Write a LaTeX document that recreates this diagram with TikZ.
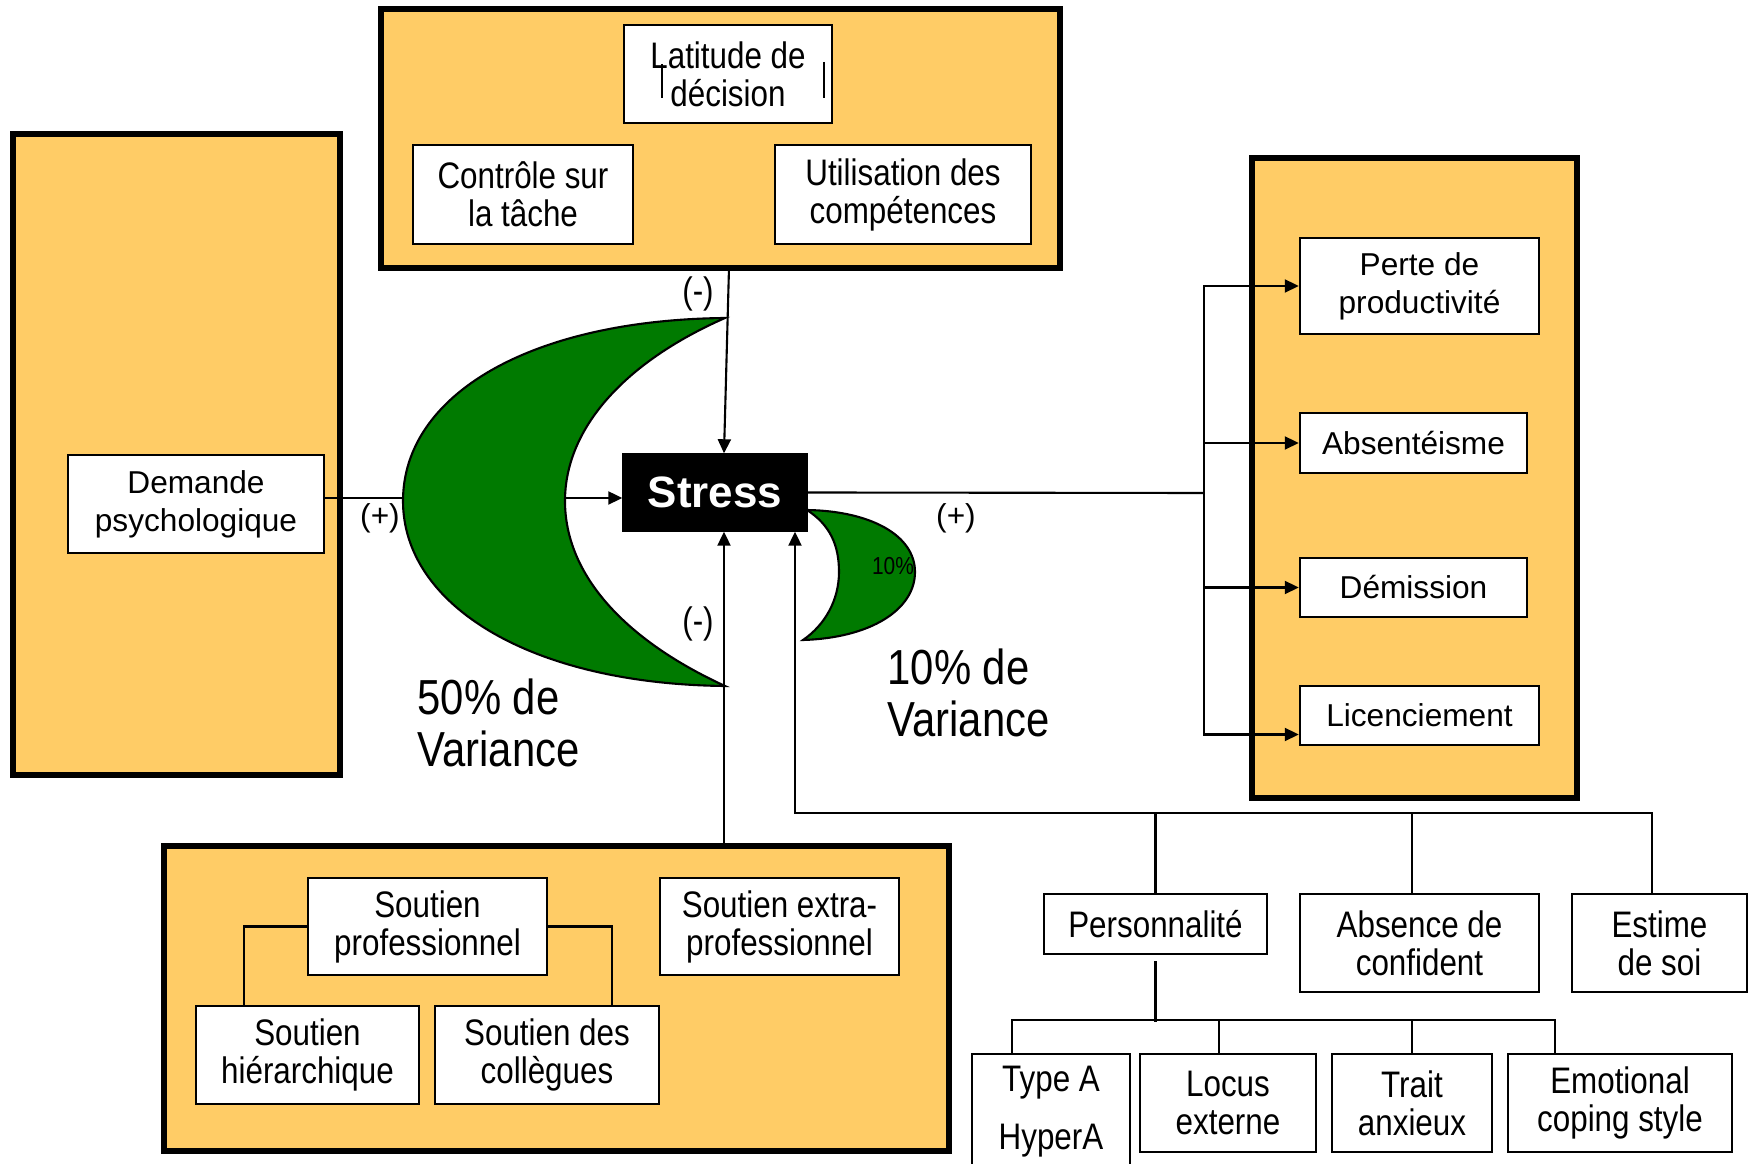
\documentclass[tikz,border=0pt]{standalone}
\usepackage{fontspec}
\setmainfont{Liberation Sans}
\newfontfamily\etroite[FakeStretch=0.85]{Liberation Sans}
\usetikzlibrary{arrows.meta}
\definecolor{orangepale}{RGB}{255,204,102}
\definecolor{vertfonce}{RGB}{0,122,0}

\begin{document}
\begin{tikzpicture}[
    cadre/.style={draw, line width=1.6pt, fill=orangepale},
    boite/.style={draw, line width=0.7pt, fill=white, align=center, inner sep=0pt, font=\fontsize{9}{10.8}\selectfont},
    etr/.style={font=\etroite\fontsize{10.5}{10.8}\selectfont},
    fleche/.style={-{Triangle[length=0.14cm,width=0.13cm]}, line width=0.6pt},
    trait/.style={line width=0.6pt},
    croissant/.style={draw, fill=vertfonce, line width=0.6pt},
    signe/.style={inner sep=0pt, font=\fontsize{9}{10.8}\selectfont},
    variance/.style={inner sep=0pt, align=left, font=\etroite\fontsize{14}{14.6}\selectfont}
  ]
    \useasboundingbox (0,0) rectangle (17.54,-11.64);
    % cadres
    \node[cadre, minimum width=6.79cm, minimum height=2.59cm] (Haut) at (7.205,-1.385) {};
    \node[cadre, minimum width=3.27cm, minimum height=6.41cm] (Gauche) at (1.765,-4.545) {};
    \node[cadre, minimum width=3.25cm, minimum height=6.40cm] (Droite) at (14.145,-4.78) {};
    \node[cadre, minimum width=7.85cm, minimum height=3.05cm] (Bas) at (5.565,-9.985) {};
    %
    \node[boite, etr, minimum width=2.08cm, minimum height=0.98cm] (Latitude) at (7.28,-0.74) {Latitude de\\décision};
    \draw[trait] (6.62,-0.64) -- (6.62,-0.98);
    \draw[trait] (8.24,-0.62) -- (8.24,-0.98);
    \node[boite, etr, minimum width=2.20cm, minimum height=0.99cm] (Controle) at (5.23,-1.945) {Contrôle sur\\la tâche};
    \node[boite, etr, minimum width=2.56cm, minimum height=0.99cm] (Utilisation) at (9.03,-1.945) {Utilisation des\\compétences};
    %
    \node[boite, minimum width=2.56cm, minimum height=0.98cm] (Demande) at (1.96,-5.04) {Demande\\psychologique};
    %
    \node[boite, minimum width=2.39cm, minimum height=0.96cm] (Perte) at (14.195,-2.86) {Perte de\\productivité};
    \node[boite, minimum width=2.27cm, minimum height=0.60cm] (Absent) at (14.135,-4.43) {Absentéisme};
    \node[boite, minimum width=2.27cm, minimum height=0.59cm] (Demission) at (14.135,-5.875) {Démission};
    \node[boite, minimum width=2.39cm, minimum height=0.59cm] (Licenc) at (14.195,-7.155) {Licenciement};
    %
    \node[boite, etr, minimum width=2.39cm, minimum height=0.97cm] (SP) at (4.275,-9.265) {Soutien\\professionnel};
    \node[boite, etr, minimum width=2.39cm, minimum height=0.97cm] (SEP) at (7.795,-9.265) {Soutien extra-\\professionnel};
    \node[boite, etr, minimum width=2.23cm, minimum height=0.98cm] (SH) at (3.075,-10.55) {Soutien\\hiérarchique};
    \node[boite, etr, minimum width=2.24cm, minimum height=0.98cm] (SDC) at (5.47,-10.55) {Soutien des\\collègues};
    %
    \node[boite, etr, minimum width=2.23cm, minimum height=0.60cm] (Perso) at (11.555,-9.24) {Personnalité};
    \node[boite, etr, minimum width=2.39cm, minimum height=0.98cm] (Absence) at (14.195,-9.43) {Absence de\\confident};
    \node[boite, etr, minimum width=1.75cm, minimum height=0.98cm] (Estime) at (16.595,-9.43) {Estime\\de soi};
    \node[boite, etr, minimum width=1.58cm, minimum height=1.16cm] (TypeA) at (10.51,-11.12) {Type A\\[5.7pt]HyperA};
    \node[boite, etr, minimum width=1.76cm, minimum height=0.98cm] (Locus) at (12.28,-11.03) {Locus\\externe};
    \node[boite, etr, minimum width=1.60cm, minimum height=0.98cm] (Trait) at (14.12,-11.03) {Trait\\anxieux};
    \node[boite, etr, minimum width=2.24cm, minimum height=0.98cm] (Emotional) at (16.20,-11.03) {Emotional\\coping style};
    %
    % croissants
    \draw[croissant] (7.25,-3.18) .. controls (5.3,-3.2) and (4.03,-3.95) .. (4.03,-5.01)
        .. controls (4.03,-6.05) and (5.3,-6.84) .. (7.25,-6.86)
        .. controls (6.25,-6.4) and (5.65,-5.75) .. (5.65,-5.01)
        .. controls (5.65,-4.28) and (6.25,-3.62) .. cycle;
    \draw[croissant] (8.07,-5.10) .. controls (8.7,-5.11) and (9.15,-5.35) .. (9.15,-5.72)
        .. controls (9.15,-6.1) and (8.7,-6.38) .. (8.03,-6.40)
        .. controls (8.25,-6.25) and (8.39,-6.0) .. (8.39,-5.72)
        .. controls (8.39,-5.45) and (8.3,-5.25) .. cycle;
    \node[inner sep=0pt, font=\etroite\fontsize{7}{8}\selectfont] (dix) at (8.93,-5.66) {10\%};
    %
    \node[draw, fill=black, text=white, minimum width=1.84cm, minimum height=0.77cm, font=\bfseries\fontsize{12.5}{14}\selectfont] (Stress) at (7.15,-4.925) {Stress};
    %
    \coordinate (croissantG) at (4.03,-4.98);
    \coordinate (croissantD) at (5.65,-4.98);
    \draw[trait] (Demande.east |- croissantG) -- (croissantG);
    \draw[fleche] (croissantD) -- (croissantD -| Stress.west);
    \node[signe] (plusG) at (3.80,-5.18) {(+)};
    %
    \coordinate (hautbas) at (7.29,-2.68);
    \draw[fleche] (hautbas) -- ([xshift=0.09cm]Stress.north);
    \node[signe, etr] (moinsH) at (6.98,-2.94) {(-)};
    %
    \draw[fleche] ([xshift=0.09cm]Stress.south |- Bas.north) -- ([xshift=0.09cm]Stress.south);
    \node[signe, etr] (moinsB) at (6.98,-6.24) {(-)};
    %
    \coordinate (bus) at (12.04,-4.93);
    \draw[trait] (Stress.east) -- (bus);
    \draw[fleche] (bus) |- (Perte.west);
    \draw[fleche] (bus) |- (Absent.west);
    \draw[fleche] (bus) |- (Demission.west);
    \draw[fleche] (bus) |- ([yshift=-0.19cm]Licenc.west);
    \node[signe] (plusD) at (9.56,-5.18) {(+)};
    %
    \coordinate (coinbas) at (7.95,-8.13);
    \draw[fleche] ([xshift=-0.075cm]Estime.north) |- (coinbas) -- ([xshift=0.80cm]Stress.south);
    \draw[trait] (Perso.north) -- (Perso.north |- coinbas);
    \draw[trait] ([xshift=-0.075cm]Absence.north) -- ([xshift=-0.075cm]Absence.north |- coinbas);
    %
    \draw[trait] ([yshift=-0.06cm]Perso.south) -- ++(0,-0.61);
    \draw[trait] ([xshift=-0.39cm]TypeA.north) -- ++(0,0.33) -| ([xshift=-0.65cm]Emotional.north);
    \draw[trait] ([xshift=-0.09cm]Locus.north) -- ++(0,0.33);
    \draw[trait] (Trait.north) -- ++(0,0.33);
    %
    \draw[trait] (SP.west) -| ([xshift=-0.635cm]SH.north);
    \draw[trait] (SP.east) -| ([xshift=0.65cm]SDC.north);
    %
    \node[variance, anchor=west] (var50) at (4.17,-7.23) {50\% de\\Variance};
    \node[variance, anchor=west] (var10) at (8.87,-6.93) {10\% de\\Variance};
\end{tikzpicture}
\end{document}
